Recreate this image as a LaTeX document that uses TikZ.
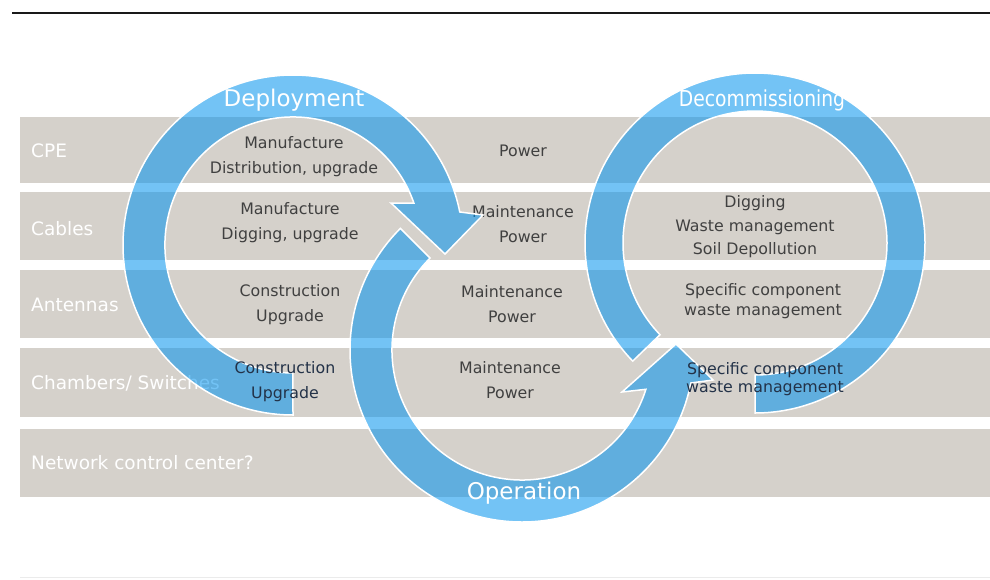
\documentclass[tikz,border=0pt]{standalone}
\usepackage{fontspec}
\setmainfont{DejaVu Sans}
\definecolor{band}{RGB}{213,209,203}
\definecolor{arrowblue}{RGB}{0,146,238}
\definecolor{txt}{RGB}{64,64,64}
\definecolor{txtnavy}{RGB}{35,50,72}
\definecolor{topline}{RGB}{25,25,25}
\begin{document}
\begin{tikzpicture}[x=1pt,y=-1pt,
  bandbox/.style={fill=band,draw=none},
  bandlabel/.style={text=white,font=\fontsize{18.5}{22}\selectfont,anchor=west,inner sep=0pt},
  celltext/.style={text=txt,font=\fontsize{15.8}{25}\selectfont,align=center,inner sep=0pt},
  celltight/.style={celltext,font=\fontsize{15.8}{23.5}\selectfont},
  cellsmall/.style={celltext,font=\fontsize{15.8}{20}\selectfont},
  ringarrow/.style={fill=arrowblue,fill opacity=0.55,draw=white,draw opacity=1,line width=1.5pt},
  phasetitle/.style={text=white,font=\fontsize{23}{27}\selectfont,inner sep=0pt}]
\useasboundingbox (0,0) rectangle (990,579);
\fill[white] (0,0) rectangle (990,579);
% top rule and faint bottom rule
\draw[topline,line width=2.5pt] (12,13) -- (990,13);
\draw[black!8,line width=1pt] (20,577) -- (990,577);
% bands
\fill[bandbox] (20,117) rectangle (990,183);
\fill[bandbox] (20,192) rectangle (990,260);
\fill[bandbox] (20,270) rectangle (990,338);
\fill[bandbox] (20,348) rectangle (990,417);
\fill[bandbox] (20,429) rectangle (990,497);
% band labels
\node[bandlabel] (lcpe) at (31,151) {CPE};
\node[bandlabel] (lcab) at (31,229) {Cables};
\node[bandlabel] (lant) at (31,305) {Antennas};
\node[bandlabel] (lcha) at (31,383) {Chambers/ Switches};
\node[bandlabel] (lnet) at (31,463) {Network control center?};
% cell texts
\node[celltext] (c11) at (294,157) {Manufacture\\Distribution, upgrade};
\node[celltext] (c21) at (290,223) {Manufacture\\Digging, upgrade};
\node[celltext] (c31) at (290,305) {Construction\\Upgrade};
\node[celltext] (c12) at (523,151) {Power};
\node[celltext] (c22) at (523,224) {Maintenance\\Power};
\node[celltext] (c32) at (512,304) {Maintenance\\Power};
\node[celltext] (c42) at (510,380) {Maintenance\\Power};
\node[celltight] (c23) at (755,227) {Digging\\Waste management\\Soil Depollution};
\node[cellsmall] (c33) at (763,301) {Specific component\\waste management};
% Deployment arrow (clockwise, head at right)
\draw[ringarrow] (293,245) ++(90:170) arc[start angle=90,end angle=348.8,radius=170]
  -- (483,215) -- (445,254) -- (391,203) -- (413.9,203.1)
  arc[start angle=340.9,end angle=90,radius=128] -- cycle;
% Operation arrow (counter-clockwise, head at upper right)
\draw[ringarrow] (522,350) ++(225:172) arc[start angle=225,end angle=11.06,radius=172]
  -- (713,380) -- (676,344) -- (622,392) -- (645.9,389.3)
  arc[start angle=17.6,end angle=225,radius=130] -- cycle;
% Decommissioning block arc
\draw[ringarrow] (755,243) ++(136:170) arc[start angle=136,end angle=450,radius=170]
  -- (755,375) arc[start angle=450,end angle=136,radius=132] -- cycle;
% dark texts shown over the arrows
\node[celltext,text=txtnavy] (c41) at (285,382) {Construction\\Upgrade};
\node[cellsmall,text=txtnavy,font=\fontsize{15.8}{18}\selectfont] (c43) at (765,379) {Specific component\\waste management};
% phase titles
\node[phasetitle] (tdep) at (294,100) {Deployment};
\node[phasetitle,font=\fontsize{22}{26}\selectfont] (tdec) at (762,100) {\scalebox{0.85}[1]{Decommissioning}};
\node[phasetitle] (top) at (524,493) {Operation};
\end{tikzpicture}
\end{document}
